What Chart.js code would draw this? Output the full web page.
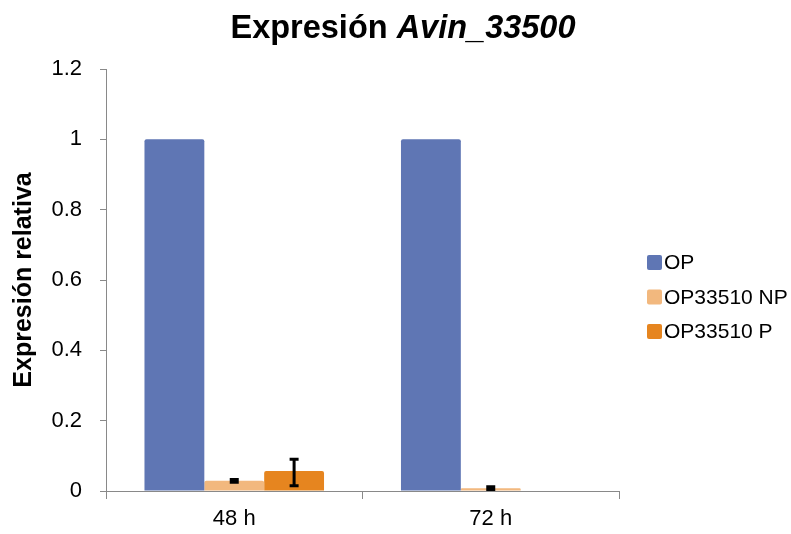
<!DOCTYPE html>
<html>
<head>
<meta charset="utf-8">
<script src="https://cdn.jsdelivr.net/npm/chart.js@4/dist/chart.umd.min.js"></script>
<style>
  html, body { margin:0; padding:0; background:#fff; }
  #wrap { position:relative; width:791px; height:534px; }
  #title { position:absolute; left:0; top:11px; width:806px; text-align:center;
           font-family:"Liberation Sans", Arial, sans-serif; font-weight:bold; font-size:32.5px;
           line-height:32px; color:#000; }
</style>
</head>
<body>
<div id="wrap">
  <canvas id="c" width="791" height="534"></canvas>
  <div id="title">Expresión <i>Avin_33500</i></div>
</div>
<script>
const categories = ['48 h', '72 h'];
const seriesNames = ['OP', 'OP33510 NP', 'OP33510 P'];
const opValues = [1.0, 1.0];
const npValues = [0.029, 0.008];
const pValues = [0.057, 0];
const opErrPlus = [0, 0];
const opErrMinus = [0, 0];
const npErrPlus = [0.004, 0.004];
const npErrMinus = [0.004, 0.004];
const pErrPlus = [0.033, 0];
const pErrMinus = [0.042, 0];
const yTicks = [0, 0.2, 0.4, 0.6, 0.8, 1, 1.2];

const colors = ['#5F76B4', '#F2B87E', '#E6851F'];
const FONT = '"Liberation Sans", Arial, sans-serif';

const errorBarPlugin = {
  id: 'errorBars',
  afterDatasetsDraw(chart) {
    const ctx = chart.ctx;
    const y = chart.scales.y;
    chart.data.datasets.forEach((ds, di) => {
      const meta = chart.getDatasetMeta(di);
      meta.data.forEach((bar, i) => {
        const v = ds.data[i];
        const up = ds.errPlus[i], dn = ds.errMinus[i];
        if (!up && !dn) return;
        const yTop = y.getPixelForValue(v + up);
        const yBot = y.getPixelForValue(v - dn);
        ctx.save();
        ctx.strokeStyle = '#000';
        ctx.lineWidth = 3;
        ctx.lineCap = 'butt';
        ctx.beginPath();
        ctx.moveTo(bar.x, yTop); ctx.lineTo(bar.x, yBot);
        ctx.moveTo(bar.x - 4.5, yTop); ctx.lineTo(bar.x + 4.5, yTop);
        ctx.moveTo(bar.x - 4.5, yBot); ctx.lineTo(bar.x + 4.5, yBot);
        ctx.stroke();
        ctx.restore();
      });
    });
  }
};

const legendPlugin = {
  id: 'customLegend',
  afterDraw(chart) {
    const ctx = chart.ctx;
    ctx.save();
    ctx.font = '21px ' + FONT;
    ctx.textBaseline = 'middle';
    ctx.textAlign = 'left';
    chart.data.datasets.forEach((ds, i) => {
      const cy = 262.5 + i * 34.5;
      ctx.fillStyle = ds.backgroundColor;
      ctx.beginPath();
      ctx.roundRect(647, cy - 7.5, 15, 15, 2);
      ctx.fill();
      ctx.fillStyle = '#000';
      ctx.fillText(ds.label, 664, cy + 1);
    });
    ctx.restore();
  }
};

new Chart(document.getElementById('c'), {
  type: 'bar',
  data: {
    labels: categories,
    datasets: [
      { label: seriesNames[0], data: opValues, backgroundColor: colors[0], errPlus: opErrPlus, errMinus: opErrMinus },
      { label: seriesNames[1], data: npValues, backgroundColor: colors[1], errPlus: npErrPlus, errMinus: npErrMinus },
      { label: seriesNames[2], data: pValues, backgroundColor: colors[2], errPlus: pErrPlus, errMinus: pErrMinus }
    ]
  },
  options: {
    responsive: false,
    animation: false,
    events: [],
    layout: { padding: { top: 69, right: 172, left: 0, bottom: 0 } },
    datasets: { bar: { categoryPercentage: 0.7, barPercentage: 1.0, borderRadius: 2, borderSkipped: 'bottom' } },
    plugins: { legend: { display: false }, title: { display: false }, tooltip: { enabled: false } },
    scales: {
      x: {
        grid: { display: true, drawOnChartArea: false, offset: true, color: '#898989', tickLength: 8 },
        border: { color: '#898989', width: 1 },
        ticks: { color: '#000', font: { family: FONT, size: 22 }, padding: 7 },
        afterFit(s) { s.height = 43; }
      },
      y: {
        min: 0, max: 1.2,
        afterBuildTicks(s) { s.ticks = yTicks.map(v => ({ value: v })); },
        grid: { display: true, drawOnChartArea: false, color: '#898989', tickLength: 6 },
        border: { color: '#898989', width: 1 },
        ticks: { color: '#000', font: { family: FONT, size: 22 }, padding: 18,
                 callback: v => String(Math.round(v * 10) / 10) },
        title: { display: true, text: 'Expresión relativa', color: '#000',
                 font: { family: FONT, size: 25, weight: 'bold' }, padding: { top: 9, bottom: 0 } },
        afterFit(s) { s.width = 106; }
      }
    }
  },
  plugins: [errorBarPlugin, legendPlugin]
});
</script>
</body>
</html>
